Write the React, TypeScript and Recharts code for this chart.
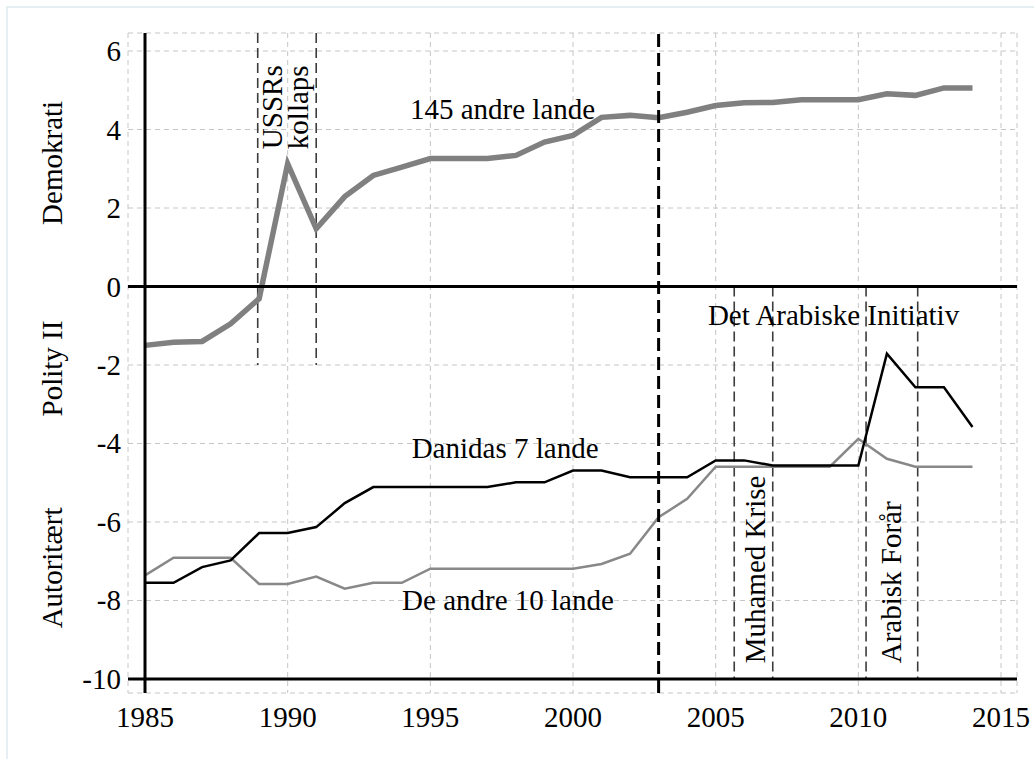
import { LineChart, Line, XAxis, YAxis, CartesianGrid, ReferenceLine, ReferenceDot } from 'recharts';

// Polity II, 1985-2014
const years = [
  1985, 1986, 1987, 1988, 1989, 1990, 1991, 1992, 1993, 1994, 1995, 1996, 1997, 1998, 1999,
  2000, 2001, 2002, 2003, 2004, 2005, 2006, 2007, 2008, 2009, 2010, 2011, 2012, 2013, 2014,
];
const andre145 = [
  -1.5, -1.42, -1.4, -0.95, -0.31, 3.13, 1.47, 2.29, 2.83, 3.04, 3.26, 3.26, 3.26, 3.34, 3.68,
  3.85, 4.31, 4.36, 4.3, 4.44, 4.61, 4.68, 4.69, 4.76, 4.76, 4.76, 4.91, 4.87, 5.06, 5.06,
];
const danidas7 = [
  -7.55, -7.55, -7.15, -6.98, -6.28, -6.28, -6.13, -5.52, -5.11, -5.11, -5.11, -5.11, -5.11, -4.99, -4.99,
  -4.69, -4.69, -4.86, -4.86, -4.86, -4.43, -4.43, -4.56, -4.56, -4.56, -4.56, -1.71, -2.57, -2.57, -3.58,
];
const andre10 = [
  -7.36, -6.91, -6.91, -6.91, -7.58, -7.58, -7.39, -7.7, -7.55, -7.55, -7.19, -7.19, -7.19, -7.19, -7.19,
  -7.19, -7.07, -6.81, -5.88, -5.41, -4.59, -4.59, -4.59, -4.59, -4.59, -3.88, -4.39, -4.59, -4.59, -4.59,
];

const xTicks = [1985, 1990, 1995, 2000, 2005, 2010, 2015];
const yTicks = [-10, -8, -6, -4, -2, 0, 2, 4, 6];

// event markers (years)
const ussrLines = [1988.95, 1991];
const muhamedLines = [2005.65, 2007];
const arabLines = [2010.27, 2012.08];

const notes = [
  { text: '145 andre lande', x: 1997.53, y: 4.28, rot: false, anchor: 'middle' },
  { text: 'Danidas 7 lande', x: 1997.62, y: -4.36, rot: false, anchor: 'middle' },
  { text: 'De andre 10 lande', x: 1997.72, y: -8.25, rot: false, anchor: 'middle' },
  { text: 'Det Arabiske Initiativ', x: 2009.13, y: -0.99, rot: false, anchor: 'middle' },
  { text: 'USSRs', x: 1989.8, y: 3.5, rot: true, anchor: 'start' },
  { text: 'kollaps', x: 1990.72, y: 3.5, rot: true, anchor: 'start' },
  { text: 'Muhamed Krise', x: 2006.73, y: -9.6, rot: true, anchor: 'start' },
  { text: 'Arabisk Forår', x: 2011.5, y: -9.6, rot: true, anchor: 'start' },
  { text: 'Demokrati', x: 1982.1, y: 3.15, rot: true, anchor: 'middle' },
  { text: 'Polity II', x: 1982.1, y: -2.09, rot: true, anchor: 'middle' },
  { text: 'Autoritært', x: 1982.1, y: -7.17, rot: true, anchor: 'middle' },
];

const rows = years.map((year, i) => ({
  year,
  andre145: andre145[i],
  danidas7: danidas7[i],
  andre10: andre10[i],
}));

const FONT = "'Liberation Serif', 'Times New Roman', serif";

function XTick(props: any) {
  const { x, y, payload } = props;
  return (
    <text x={x} y={y + 21} textAnchor="middle" fontFamily={FONT} fontSize={29} fill="#000">
      {payload.value}
    </text>
  );
}

function YTick(props: any) {
  const { x, y, payload } = props;
  return (
    <text x={x} y={y + 10} textAnchor="end" fontFamily={FONT} fontSize={29} fill="#000">
      {payload.value}
    </text>
  );
}

function NoteText(props: any) {
  const { viewBox, text, rot, anchor } = props;
  const x = viewBox.x;
  const y = viewBox.y;
  return (
    <text
      x={x}
      y={y}
      textAnchor={anchor}
      transform={rot ? `rotate(-90, ${x}, ${y})` : undefined}
      fontFamily={FONT}
      fontSize={29}
      fill="#000"
    >
      {text}
    </text>
  );
}

export default function App() {
  return (
    <div style={{ position: 'absolute', left: 0, top: 0, width: 1034, height: 759, background: '#fff' }}>
      <div
        style={{
          position: 'absolute',
          left: 6,
          top: 6,
          width: 1028,
          height: 753,
          borderTop: '2px solid #e6eff3',
          borderLeft: '2px solid #e6eff3',
          boxSizing: 'border-box',
        }}
      />
      <div style={{ position: 'absolute', left: 0, top: 0 }}>
        <LineChart width={1034} height={759} data={rows} margin={{ top: 33, right: 17, bottom: 0, left: 0 }}>
          <CartesianGrid stroke="#c6c6c6" strokeDasharray="5 4" strokeWidth={1} />
          <XAxis
            dataKey="year"
            type="number"
            domain={[1984.404, 2015.56]}
            ticks={xTicks}
            interval={0}
            allowDataOverflow
            axisLine={false}
            tickLine={false}
            height={66}
            tickSize={6}
            tickMargin={7}
            tick={<XTick />}
          />
          <YAxis
            type="number"
            domain={[-10.357, 6.459]}
            ticks={yTicks}
            interval={0}
            allowDataOverflow
            axisLine={false}
            tickLine={false}
            width={128}
            tickSize={6}
            tickMargin={1}
            tick={<YTick />}
          />

          {ussrLines.map((x) => (
            <ReferenceLine
              key={'u' + x}
              segment={[{ x, y: 6.459 }, { x, y: -2 }]}
              stroke="#3c3c3c"
              strokeWidth={1.6}
              strokeDasharray="10 5"
            />
          ))}
          {[...muhamedLines, ...arabLines].map((x) => (
            <ReferenceLine
              key={'m' + x}
              segment={[{ x, y: 0 }, { x, y: -10 }]}
              stroke="#3c3c3c"
              strokeWidth={1.6}
              strokeDasharray="10 5"
            />
          ))}

          <Line dataKey="andre10" type="linear" stroke="#888888" strokeWidth={2.5} dot={false} isAnimationActive={false} />
          <Line dataKey="danidas7" type="linear" stroke="#000000" strokeWidth={2.5} dot={false} isAnimationActive={false} />
          <Line dataKey="andre145" type="linear" stroke="#808080" strokeWidth={5.5} dot={false} isAnimationActive={false} />

          <ReferenceLine x={1985} stroke="#000" strokeWidth={3} />
          <ReferenceLine y={-10} stroke="#000" strokeWidth={3} />
          <ReferenceLine y={0} stroke="#000" strokeWidth={3} />
          <ReferenceLine x={2003} stroke="#000" strokeWidth={3} strokeDasharray="13 6" />

          {notes.map((n) => (
            <ReferenceDot
              key={n.text}
              x={n.x}
              y={n.y}
              r={0}
              fill="none"
              stroke="none"
              ifOverflow="visible"
              label={<NoteText text={n.text} rot={n.rot} anchor={n.anchor} />}
            />
          ))}
        </LineChart>
      </div>
    </div>
  );
}
